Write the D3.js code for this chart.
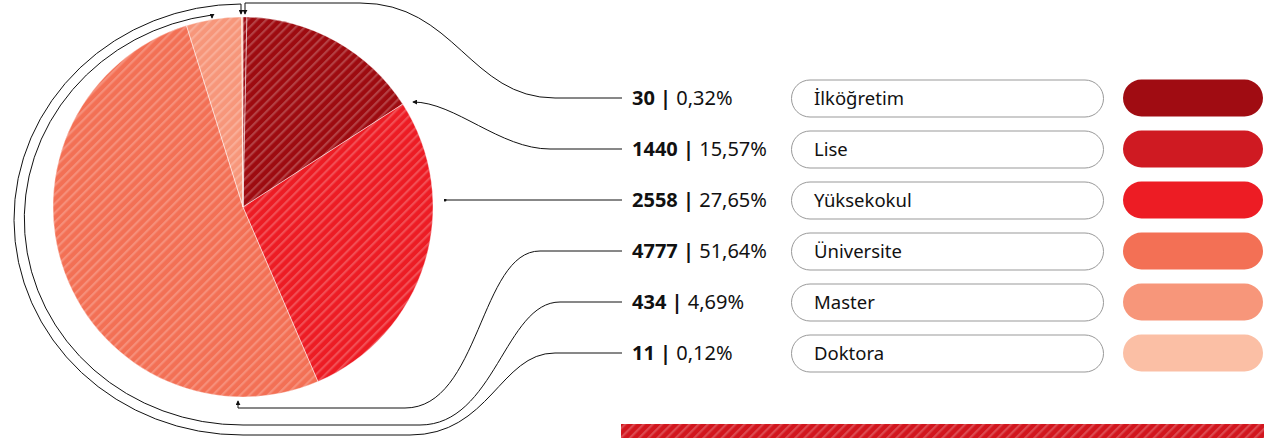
<!DOCTYPE html>
<html>
<head>
<meta charset="utf-8">
<script src="https://cdn.jsdelivr.net/npm/d3@7"></script>
<style>
  html, body { margin: 0; padding: 0; background: #fff; }
  svg { display: block; font-family: "Noto Sans", sans-serif; }
</style>
</head>
<body>
<svg id="chart" width="1285" height="438"></svg>
<script>
const categories = ["İlköğretim", "Lise", "Yüksekokul", "Üniversite", "Master", "Doktora"]
const counts = [30, 1440, 2558, 4777, 434, 11]
const percents = ["0,32%", "15,57%", "27,65%", "51,64%", "4,69%", "0,12%"]
const legendColors = ["#a00c12", "#cf1a22", "#ed1c24", "#f37055", "#f7967a", "#fbbfa5"]
const sliceColors = ["#a00c12", "#9e0b10", "#ed1c24", "#f37055", "#f7967a", "#fbbfa5"]

const W = 1285, H = 438
const cx = 243, cy = 207, R = 190

const svg = d3.select("#chart")
const defs = svg.append("defs")

// diagonal white hatching used on the pie and the bottom band
const hatch = defs.append("pattern")
  .attr("id", "hatch")
  .attr("patternUnits", "userSpaceOnUse")
  .attr("width", 6.5).attr("height", 6.5)
  .attr("patternTransform", "rotate(45)")
hatch.append("rect").attr("x", 0).attr("y", 0).attr("width", 2.2).attr("height", 6.5)
  .attr("fill", "#fff").attr("fill-opacity", 0.22)

defs.append("marker")
  .attr("id", "arrow")
  .attr("viewBox", "0 0 6 6")
  .attr("refX", 5).attr("refY", 3)
  .attr("markerWidth", 5).attr("markerHeight", 5)
  .attr("orient", "auto")
  .append("path").attr("d", "M0,0 L6,3 L0,6 Z").attr("fill", "#111")

defs.append("marker")
  .attr("id", "dot")
  .attr("viewBox", "0 0 4 4")
  .attr("refX", 2).attr("refY", 2)
  .attr("markerWidth", 3).attr("markerHeight", 3)
  .append("circle").attr("cx", 2).attr("cy", 2).attr("r", 2).attr("fill", "#111")

// pie
const pie = d3.pie().sort(null).value(d => d)
const arcs = pie(counts)
const arc = d3.arc().innerRadius(0).outerRadius(R)

const g = svg.append("g").attr("transform", `translate(${cx},${cy})`)
g.selectAll("path.slice")
  .data(arcs)
  .enter().append("path")
  .attr("class", "slice")
  .attr("d", arc)
  .attr("fill", (d, i) => sliceColors[i])
g.selectAll("path.hatch")
  .data(arcs)
  .enter().append("path")
  .attr("class", "hatch")
  .attr("d", arc)
  .attr("fill", "url(#hatch)")
  .attr("stroke", "rgba(255,255,255,0.35)")
  .attr("stroke-width", 1)

// rows
const y = d3.scalePoint().domain(categories).range([98, 353])
const labelX = 622

// connectors: each one is a route from the label back to the pie
const routes = [
  yy => `M${labelX},${yy} H555 C470,${yy} 455,3 360,3 H245 V14`,
  yy => `M${labelX},${yy} H550 C500,${yy} 455,102 413,102`,
  yy => `M${labelX},${yy} H445`,
  yy => `M${labelX},${yy} H540 C480,${yy} 480,408 405,408 H238 V401`,
  yy => `M${labelX},${yy} H560 C505,${yy} 495,425 420,425 H${cx} A218,206 0 0,1 212,15 V18`,
  yy => `M${labelX},${yy} H555 C500,${yy} 490,435 410,435 H${cx} A228,215.5 0 0,1 241,4 V14`
]

svg.append("g").selectAll("path")
  .data(categories)
  .enter().append("path")
  .attr("d", (d, i) => routes[i](y(d)))
  .attr("fill", "none")
  .attr("stroke", "#111")
  .attr("stroke-width", 1)
  .attr("marker-end", (d, i) => i === 2 ? "url(#dot)" : "url(#arrow)")

// value labels
const lbl = svg.append("g").selectAll("text")
  .data(categories)
  .enter().append("text")
  .attr("x", 632)
  .attr("y", d => y(d))
  .attr("dy", "0.36em")
  .attr("font-size", 20)
  .attr("fill", "#111")
lbl.append("tspan").attr("font-weight", "bold").text((d, i) => counts[i] + " | ")
lbl.append("tspan").text((d, i) => percents[i])

// outlined name pills
const pillH = 37
svg.append("g").selectAll("rect")
  .data(categories)
  .enter().append("rect")
  .attr("x", 791.5).attr("y", d => y(d) - pillH / 2 + 0.5)
  .attr("width", 312).attr("height", pillH)
  .attr("rx", pillH / 2)
  .attr("fill", "#fff")
  .attr("stroke", "#999")
  .attr("stroke-width", 1)

svg.append("g").selectAll("text")
  .data(categories)
  .enter().append("text")
  .attr("x", 814)
  .attr("y", d => y(d))
  .attr("dy", "0.36em")
  .attr("font-size", 18.5)
  .attr("fill", "#111")
  .text(d => d)

// colour pills
svg.append("g").selectAll("rect")
  .data(categories)
  .enter().append("rect")
  .attr("x", 1123).attr("y", d => y(d) - pillH / 2)
  .attr("width", 140).attr("height", pillH)
  .attr("rx", pillH / 2)
  .attr("fill", (d, i) => legendColors[i])

// bottom band
svg.append("rect").attr("x", 621).attr("y", 424).attr("width", 643).attr("height", 20)
  .attr("fill", "#d2161e")
svg.append("rect").attr("x", 621).attr("y", 424).attr("width", 643).attr("height", 20)
  .attr("fill", "url(#hatch)")
</script>
</body>
</html>
